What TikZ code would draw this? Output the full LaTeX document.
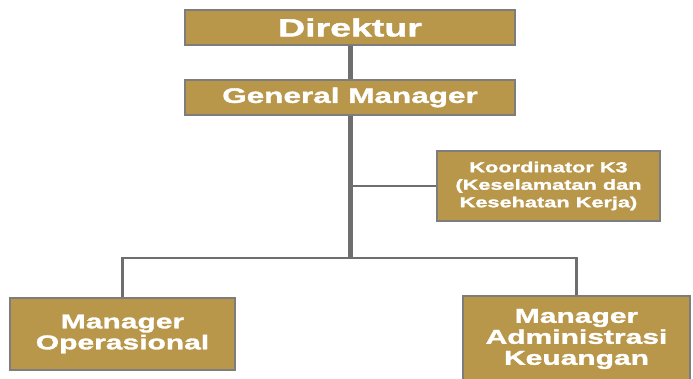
\documentclass[tikz,border=0pt]{standalone}
\usepackage{fontspec}
\newfontfamily\boxfont[FakeStretch=1.5,BoldFeatures={FakeBold=1.6}]{Liberation Sans}
\definecolor{boxfill}{RGB}{184,150,74}
\definecolor{boxline}{RGB}{125,125,125}
\definecolor{trunk}{RGB}{110,110,110}
\begin{document}
\begin{tikzpicture}[x=1pt,y=-1pt,
  orgbox/.style={draw=boxline,line width=1.6pt,fill=boxfill,text=white,
    font=\boxfont\bfseries,align=center,inner sep=0pt,anchor=center},
  trunkline/.style={draw=trunk,line width=5pt},
  branchline/.style={draw=trunk,line width=2.5pt}]
\useasboundingbox (0,0) rectangle (693,379);
\clip (0,0) rectangle (693,379);
\node[orgbox,minimum width=330pt,minimum height=35pt,font=\boxfont\bfseries\fontsize{25}{28}\selectfont] (dir) at (350,27.5) {Direktur};
\node[orgbox,minimum width=330pt,minimum height=35pt,font=\boxfont\bfseries\fontsize{21}{24}\selectfont] (gm) at (350,97.5) {General Manager};
\node[orgbox,minimum width=223pt,minimum height=70pt,font=\boxfont\bfseries\fontsize{14.5}{17.5}\selectfont] (k3) at (548.5,186) {Koordinator K3\\(Keselamatan dan\\Kesehatan Kerja)};
\node[orgbox,minimum width=225pt,minimum height=72pt,font=\boxfont\bfseries\fontsize{20}{21}\selectfont] (mo) at (122.5,334) {Manager\\Operasional};
\node[orgbox,minimum width=227pt,minimum height=86pt,font=\boxfont\bfseries\fontsize{20}{21}\selectfont] (mak) at (576.5,339) {Manager\\Administrasi\\Keuangan};
\coordinate (j) at (350,258);
\draw[trunkline] (dir.south) -- (gm.north);
\draw[trunkline] (gm.south) -- (j);
\draw[branchline] (gm.south |- k3.west) -- (k3.west);
\draw[branchline] (mo.north) |- (j) -| (mak.north);
\end{tikzpicture}
\end{document}
